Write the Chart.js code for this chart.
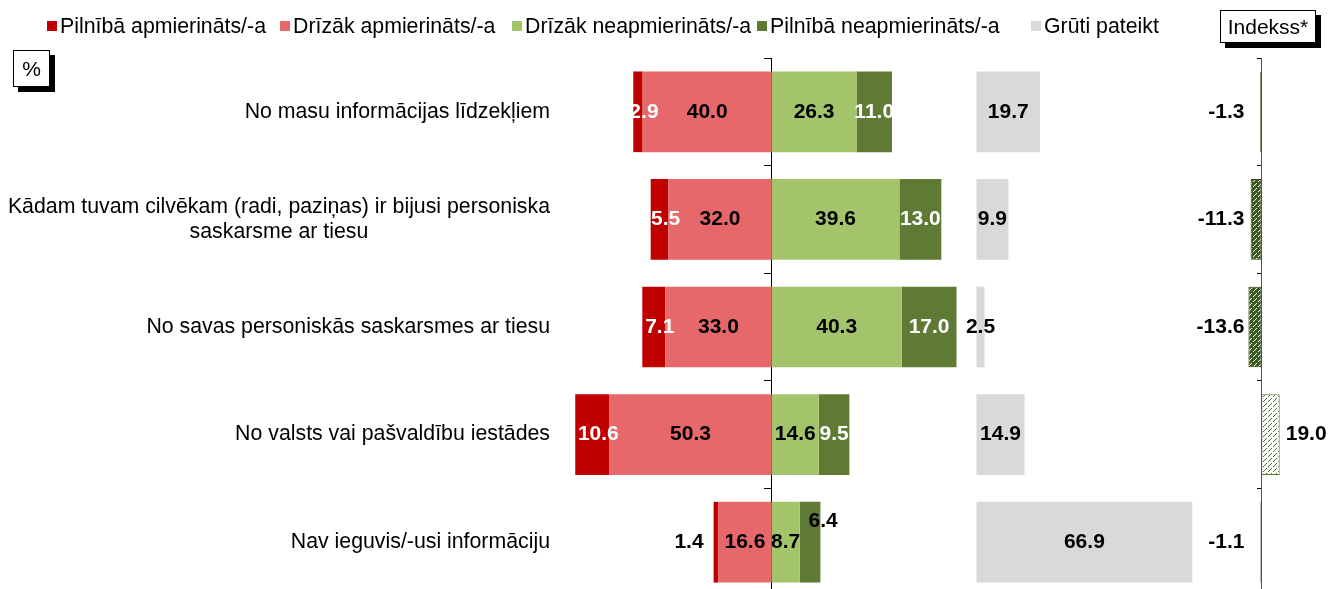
<!DOCTYPE html>
<html>
<head>
<meta charset="utf-8">
<script src="https://cdn.jsdelivr.net/npm/chart.js@4"></script>
<style>
body{margin:0;overflow:hidden;background:#fff;font-family:"Liberation Sans",Arial,sans-serif;}
#wrap{position:relative;width:1329px;height:596px;}
#chart{position:absolute;left:0;top:0;}
.item{position:absolute;top:14px;height:24px;font-size:21.3px;line-height:24px;color:#000;white-space:nowrap;}
.sw{position:absolute;top:7px;width:10px;height:10px;}
.box{position:absolute;border:1px solid #000;background:#fff;box-shadow:5px 5px 0 #000;font-size:21px;text-align:center;box-sizing:border-box;}
</style>
</head>
<body>
<div id="wrap">
<canvas id="chart" width="1329" height="596"></canvas>

<div class="item" style="left:47px"><span class="sw" style="left:0;background:#C00000"></span><span style="margin-left:13px">Pilnībā apmierināts/-a</span></div>
<div class="item" style="left:280px"><span class="sw" style="left:0;background:#E6686A"></span><span style="margin-left:13px">Drīzāk apmierināts/-a</span></div>
<div class="item" style="left:512px"><span class="sw" style="left:0;background:#A3C46B"></span><span style="margin-left:13px">Drīzāk neapmierināts/-a</span></div>
<div class="item" style="left:757px"><span class="sw" style="left:0;background:#5E7A35"></span><span style="margin-left:13px">Pilnībā neapmierināts/-a</span></div>
<div class="item" style="left:1031px"><span class="sw" style="left:0;background:#D9D9D9"></span><span style="margin-left:13px">Grūti pateikt</span></div>

<div class="box" style="left:1220px;top:10px;width:96px;height:33px;line-height:31px">Indekss*</div>
<div class="box" style="left:13px;top:50px;width:37px;height:37px;line-height:35px">%</div>
</div>

<script>
// data
const categories = [
"No masu informācijas līdzekļiem",
["Kādam tuvam cilvēkam (radi, paziņas) ir bijusi personiska","saskarsme ar tiesu"],
"No savas personiskās saskarsmes ar tiesu",
"No valsts vai pašvaldību iestādes",
"Nav ieguvis/-usi informāciju"
];
const fullySatisfied = [2.9, 5.5, 7.1, 10.6, 1.4];
const ratherSatisfied = [40.0, 32.0, 33.0, 50.3, 16.6];
const ratherDissatisfied = [26.3, 39.6, 40.3, 14.6, 8.7];
const fullyDissatisfied = [11.0, 13.0, 17.0, 9.5, 6.4];
const hardToSay = [19.7, 9.9, 2.5, 14.9, 66.9];
const indexValues = [-1.3, -11.3, -13.6, 19.0, -1.1];

const FONT = "'Liberation Sans', Arial, sans-serif";

const canvas = document.getElementById("chart");
const mainCtx = canvas.getContext("2d");

// hatched fills for the index bars (dashed diagonals, pixel by pixel)
function hatch(bg, fg){
const n = 5;
const c = document.createElement("canvas");
c.width = n; c.height = n;
const g = c.getContext("2d");
g.fillStyle = bg;
g.fillRect(0,0,n,n);
g.fillStyle = fg;
for(let i=0;i<n;i++){
if(i === 2) continue;
g.fillRect(i, n-1-i, 1, 1);
}
return mainCtx.createPattern(c,"repeat");
}
const darkHatch = hatch("#3D5C20","#ffffff");
const lightHatch = hatch("#ffffff","#4E6B2A");

// which array each dataset's label is read from
const labelSources = [ratherSatisfied, fullySatisfied, ratherDissatisfied, fullyDissatisfied, hardToSay, indexValues];

const valueLabels = {
id:"valueLabels",
afterDatasetsDraw(chart){
const ctx = chart.ctx;
ctx.save();
ctx.font = "bold 21px " + FONT;
ctx.textBaseline = "middle";
chart.data.datasets.forEach((ds,di)=>{
const meta = chart.getDatasetMeta(di);
meta.data.forEach((bar,i)=>{
const v = labelSources[di][i];
const txt = v.toFixed(1);
const mid = (bar.x + bar.base)/2;
let x = mid, y = bar.y, align = "center", color = "#000";
if(di === 1){
if(v < 2){
x = Math.min(bar.x, bar.base) - 10; align = "right";
}else{
x = mid + 6; color = "#fff";
}
}else if(di === 3){
if(v < 7){
x = mid + 13; y = bar.y - 21;
}else{
color = "#fff";
}
}else if(di === 5){
if(v < 0){
x = bar.base - 17; align = "right";
}else{
x = bar.x + 6; align = "left";
}
}
ctx.fillStyle = color;
ctx.textAlign = align;
ctx.fillText(txt, x, y);
});
});
ctx.restore();
}
};

// category names, block right-aligned, lines centred on each other
const categoryLabels = {
id:"categoryLabels",
afterDraw(chart){
const ctx = chart.ctx;
const yScale = chart.scales.y;
ctx.save();
ctx.font = "21.3px " + FONT;
ctx.fillStyle = "#000";
ctx.textBaseline = "middle";
ctx.textAlign = "center";
categories.forEach((lab,i)=>{
const lines = Array.isArray(lab) ? lab : [lab];
const w = Math.max(...lines.map(l=>ctx.measureText(l).width));
const cx = 550 - w/2;
const cy = yScale.getPixelForValue(i);
const lh = 25;
lines.forEach((l,k)=>{
ctx.fillText(l, cx, cy + (k - (lines.length-1)/2)*lh);
});
});
ctx.restore();
}
};

new Chart(canvas,{
type:"bar",
data:{
labels:categories.map((c,i)=>"c"+i),
datasets:[
{label:"Drīzāk apmierināts/-a", data:ratherSatisfied.map(v=>-v), backgroundColor:"#E6686A", xAxisID:"x", stack:"s"},
{label:"Pilnībā apmierināts/-a", data:fullySatisfied.map(v=>-v), backgroundColor:"#C00000", xAxisID:"x", stack:"s"},
{label:"Drīzāk neapmierināts/-a", data:ratherDissatisfied, backgroundColor:"#A3C46B", xAxisID:"x", stack:"s"},
{label:"Pilnībā neapmierināts/-a", data:fullyDissatisfied, backgroundColor:"#5E7A35", xAxisID:"x", stack:"s"},
{label:"Grūti pateikt", data:hardToSay, backgroundColor:"#D9D9D9", xAxisID:"x2", stack:"s"},
{label:"Indekss*", data:indexValues, backgroundColor:indexValues.map(v=>v<0?darkHatch:lightHatch), borderColor:indexValues.map(v=>v<0?"#2F4A15":"#5E7A35"), borderWidth:1, borderSkipped:false, xAxisID:"x3", stack:"s"}
]
},
options:{
indexAxis:"y",
responsive:false,
animation:false,
layout:{padding:{left:562,right:9,top:58,bottom:0}},
datasets:{bar:{categoryPercentage:0.75,barPercentage:1}},
plugins:{
legend:{display:false},
tooltip:{enabled:false}
},
scales:{
x:{type:"linear",min:-65,max:170,display:false,stacked:true},
x2:{type:"linear",min:-128.5,max:106.5,display:false,stacked:true},
x3:{type:"linear",min:-729,max:61,display:false,stacked:true},
y:{
type:"category",
stacked:true,
offset:true,
position:{x:0},
grid:{offset:true,drawOnChartArea:false,tickLength:7,color:"#000"},
border:{color:"#000",width:1},
ticks:{display:false}
},
y3:{
type:"category",
offset:true,
position:{x3:0},
grid:{offset:true,drawOnChartArea:false,tickLength:4,color:"#000"},
border:{color:"#555",width:1},
ticks:{display:false}
}
}
},
plugins:[valueLabels,categoryLabels]
});
</script>
</body>
</html>
